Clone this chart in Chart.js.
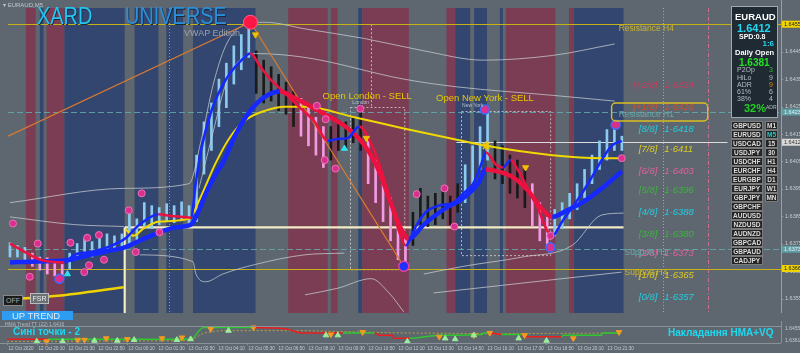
<!DOCTYPE html>
<html>
<head>
<meta charset="utf-8">
<script src="https://cdn.jsdelivr.net/npm/chart.js@4.4.1/dist/chart.umd.min.js"></script>
<style>
html,body{margin:0;padding:0;}
body{width:800px;height:353px;background:#5e6770;position:relative;overflow:hidden;font-family:'Liberation Sans',Arial,sans-serif;}
canvas{position:absolute;left:0;}
.t{position:absolute;white-space:nowrap;line-height:1;}
.btn{position:absolute;height:7px;background:#252525;border:1px solid #7a7a7a;color:#dcdcdc;font-size:6.5px;line-height:7px;text-align:center;font-weight:bold;}
#info{position:absolute;left:731px;top:6px;width:45px;height:110px;background:#1f2a33;border:1px solid #a0a8ae;}
</style>
</head>
<body>
<canvas id="main" width="800" height="321" style="top:0;width:800px;height:321px"></canvas>
<canvas id="sub" width="800" height="32" style="top:321px;width:800px;height:32px"></canvas>

<div class="t" style="left:3px;top:2px;font-size:6px;color:#c0c6cc;">▾ EURAUD,M5</div>
<div class="t" style="left:37px;top:4px;font-size:24px;color:#22c6f2;transform:scaleX(0.83);transform-origin:left top;text-shadow:1px 1px 0 #1b2838;">XARD</div>
<div class="t" style="left:125px;top:4px;font-size:24px;color:#2a90dc;transform:scaleX(0.83);transform-origin:left top;text-shadow:1px 1px 0 #1b2838;">UNIVERSE</div>
<div class="t" style="left:184px;top:29px;font-size:9px;color:#9aa2aa;">VWAP Edition</div>

<div id="info">
  <div class="t" style="left:3px;top:5px;font-size:9.5px;font-weight:900;color:#fff;">EURAUD</div>
  <div class="t" style="left:5px;top:16px;font-size:11px;font-weight:bold;color:#22d8f2;">1.6412</div>
  <div class="t" style="left:7px;top:26px;font-size:7px;font-weight:bold;color:#fff;">SPD:0.8</div>
  <div class="t" style="right:3px;top:33px;font-size:8px;font-weight:bold;color:#22d8f2;">1:6</div>
  <div class="t" style="left:3px;top:42px;font-size:7.5px;font-weight:bold;color:#fff;">Daily Open</div>
  <div class="t" style="left:7px;top:51px;font-size:10px;font-weight:bold;color:#22e022;">1.6381</div>
  <div class="t" style="left:5px;top:59px;font-size:7px;color:#b8bec4;">P2Op</div><div class="t" style="right:4px;top:59px;font-size:7px;color:#30c030;">3</div>
  <div class="t" style="left:5px;top:67px;font-size:7px;color:#b8bec4;">HiLo</div><div class="t" style="right:4px;top:67px;font-size:7px;color:#b8bec4;">9</div>
  <div class="t" style="left:5px;top:74px;font-size:7px;color:#b8bec4;">ADR</div><div class="t" style="right:4px;top:74px;font-size:7px;color:#e08a00;">9</div>
  <div class="t" style="left:5px;top:81px;font-size:7px;color:#b8bec4;">61%</div><div class="t" style="right:4px;top:81px;font-size:7px;color:#b8bec4;">6</div>
  <div class="t" style="left:5px;top:88px;font-size:7px;color:#b8bec4;">38%</div><div class="t" style="right:4px;top:88px;font-size:7px;color:#b8bec4;">4</div>
  <div class="t" style="left:12px;top:96px;font-size:11px;font-weight:bold;color:#22d022;">32%</div>
  <div class="t" style="left:34px;top:98px;font-size:5px;color:#b8bec4;">ADR</div>
</div>
<div id="btns"></div>

<div class="t" style="left:3px;top:295px;width:18px;height:9px;background:#1c1c1c;border:1px solid #888;color:#aaa;font-size:7px;line-height:9px;text-align:center;">OFF</div>
<div class="t" style="left:30px;top:293px;width:17px;height:9px;background:#6c7176;border:1px solid #bbb;color:#eee;font-size:7px;line-height:9px;text-align:center;">FSR</div>
<div class="t" style="left:2px;top:311px;width:61px;height:9px;background:#2e9cf0;color:#dfeaf2;font-size:9.5px;line-height:9px;padding-left:10px;">UP TREND</div>

<div class="t" style="left:5px;top:322px;font-size:5px;color:#b0b8c0;">HMA Trend TT (22) 1.6416</div>
<div class="t" style="left:13px;top:327px;font-size:10px;font-weight:bold;color:#1ed8f0;">Сині точки - 2</div>
<div class="t" style="left:668px;top:328px;font-size:10px;font-weight:bold;color:#1ed8f0;">Накладання HMA+VQ</div>

<script>
// ================= DATA =================
const timeLabels = ["12 Oct 2020","12 Oct 20:10","12 Oct 21:30","12 Oct 22:50","13 Oct 00:10","13 Oct 01:30","13 Oct 02:50","13 Oct 04:10","13 Oct 05:30","13 Oct 06:50","13 Oct 08:10","13 Oct 09:30","13 Oct 10:50","13 Oct 12:10","13 Oct 13:30","13 Oct 14:50","13 Oct 16:10","13 Oct 17:30","13 Oct 18:50","13 Oct 20:10","13 Oct 21:30"];
const barsPerLabel = 16;
const priceTicks = [1.6445,1.6435,1.6425,1.6415,1.6405,1.6395,1.6385,1.6375,1.6365,1.6355];
const subTicks = [1.6455,1.6361];

// candles (x = M5 bar index, one candle every 4 bars)
const candleStep = 4;
const candleHigh = [1.63754,1.63744,1.63737,1.63716,1.63702,1.63699,1.63689,1.63675,1.63716,1.63751,1.63768,1.63758,1.63779,1.63786,1.63779,1.63786,1.63872,1.63841,1.639,1.63889,1.63882,1.63896,1.63889,1.63903,1.63889,1.64073,1.64194,1.64263,1.6435,1.64408,1.64471,1.64512,1.64557,1.64453,1.64419,1.64395,1.64367,1.64339,1.64305,1.6428,1.64246,1.64211,1.64177,1.64177,1.64201,1.64194,1.64211,1.64253,1.64142,1.64055,1.63986,1.63917,1.63831,1.63779,1.63865,1.63952,1.63924,1.63934,1.63959,1.63924,1.63969,1.64038,1.64107,1.64177,1.64239,1.64125,1.64107,1.64073,1.64055,1.64021,1.63969,1.639,1.63848,1.63875,1.639,1.63934,1.63969,1.64021,1.64073,1.64125,1.64166,1.64187,1.64142];
const candleLow = [1.63702,1.63702,1.63692,1.63668,1.63654,1.6364,1.63633,1.63619,1.63658,1.63692,1.63702,1.63702,1.63716,1.63727,1.63723,1.6373,1.63744,1.63751,1.63813,1.63806,1.6382,1.63831,1.63827,1.63834,1.6382,1.63831,1.64004,1.6409,1.64177,1.64246,1.64332,1.64384,1.64429,1.64298,1.64263,1.6427,1.64235,1.64222,1.64177,1.64142,1.64107,1.64073,1.64028,1.64055,1.6409,1.64097,1.64118,1.6409,1.63969,1.639,1.63831,1.63761,1.63692,1.63668,1.63744,1.6382,1.63813,1.6382,1.63841,1.6382,1.63865,1.639,1.63969,1.64021,1.64055,1.63986,1.63969,1.63934,1.63917,1.63882,1.63813,1.63761,1.63737,1.63779,1.63806,1.63841,1.63875,1.63917,1.63969,1.64021,1.64055,1.6409,1.6409];
const candleTone = ("bbb"+"ppppp"+"bbbbbbbbbbbbbbbbb"+"bbbbbbbb"+"kkkkkk"+"pppp"+"kkkkk"+"pppppp"+"kkkkkkk"+"bbbb"+"kkkkk"+"ppp"+"bbbbbbbbbb").split("");

// moving averages
const fastX = [0,8,16.4,29.2,34.5,43,52,61.5,69.5,79.6,86.5,92.8,97.1,99.7,102.4,107.7,113,118.3,124.1,128.9,134.2,139.5,147.5,155.4,163.4,170.3,175.6,180.9,187.3,193.6,198.9,204.2,208.5,212.2,217.5,222.8,229.7,237.7,243,248.3,252.5,255.2,260.5,264.2,268.4,272.1,277.5,282.8,288.1,290.7,296,301.3,306.6,311.9,317.2,322.5,327.9];
const fastY = [1.63751,1.6372,1.63692,1.63682,1.6371,1.6372,1.63737,1.63768,1.6382,1.63858,1.63851,1.63848,1.63845,1.63976,1.6409,1.64229,1.64315,1.64374,1.64419,1.64443,1.64395,1.6435,1.64298,1.64246,1.64194,1.64125,1.64132,1.64135,1.64177,1.64114,1.64021,1.639,1.63796,1.63744,1.63813,1.63865,1.63889,1.639,1.63934,1.63969,1.64038,1.64083,1.64038,1.64028,1.64055,1.64021,1.63952,1.63882,1.63796,1.63779,1.63831,1.63882,1.63934,1.63993,1.64055,1.64107,1.64125];
const slowX = [0,14.9,29.2,43,52,61.5,70.6,80.1,89.1,97.1,101.3,105,110.3,114.1,121,128.9,136.9,144.8,152.8,160.7,168.7,179.3,187.3,192.6,197.9,203.2,208.5,213.8,221.8,232.4,243,250.9,255.2,261.5,269.5,277.5,285.4,290.7,298.7,306.6,317.2,327.9];
const slowY = [1.63682,1.63686,1.63689,1.6371,1.63723,1.63737,1.63765,1.63792,1.6381,1.6382,1.63872,1.63934,1.64004,1.64045,1.64149,1.64235,1.64287,1.64305,1.6428,1.64253,1.64222,1.6418,1.64132,1.64083,1.64014,1.63917,1.6382,1.63768,1.6382,1.63875,1.63917,1.63969,1.64021,1.64014,1.63993,1.63945,1.63875,1.63848,1.63872,1.639,1.63952,1.64014];
const vwapPrevX = [0,25.5,61];
const vwapPrevY = [1.63547,1.63561,1.63592];
const vwapX = [62,66.3,71.6,80.1,96,101.3,110.3,118.3,126.3,136.9,147.5,158.1,184.6,211.1,237.7,255.2,290.7,317.2,327.9];
const vwapY = [1.63803,1.63779,1.63806,1.63831,1.63841,1.63907,1.64045,1.64142,1.64201,1.64235,1.64249,1.64249,1.64211,1.6417,1.64132,1.64107,1.64073,1.64062,1.64062];

// envelope bands [bar, price]
const envUpperOuter = [[0,1.6390],[61,1.63952],[96,1.63969],[102.4,1.64125],[109,1.64332],[115.6,1.64471],[123.6,1.6454],[136.9,1.64557],[158.1,1.64533],[189.9,1.64498],[221.8,1.64453],[253.6,1.64419],[290.7,1.64436],[324.1,1.64478]];
const envUpperInner = [[101.3,1.63952],[107.7,1.64125],[116.7,1.6435],[131.6,1.64443],[158.1,1.64429],[211.1,1.6435],[239.3,1.64322],[290.7,1.64291],[324.1,1.6427]];
const envLeftMid = [[0,1.63848],[34.5,1.6382],[61,1.63813]];
const envLowerA = [[69.5,1.6371],[98.1,1.63685],[99.7,1.6364],[105,1.63612],[114.1,1.6364],[131.6,1.63675],[158.1,1.6371],[179.3,1.63716]];
const envLowerB = [[158.1,1.63564],[175.6,1.63588],[193.6,1.63623],[203.2,1.63571],[211.1,1.63502]];
const envLowerC = [[221.8,1.6364],[243,1.63668],[274.8,1.63702],[301.3,1.63744],[317.2,1.63855],[328.9,1.63862]];
const envLowerD = [[227,1.63571],[264.2,1.63599],[296,1.63623],[327.9,1.63647]];
const zigzag = [[-1,1.64142],[128.9,1.64557],[211.1,1.63668]];

// levels
const resistH4 = 1.6455, resistH1 = 1.6423, supportH1 = 1.6373, supportH4 = 1.6366;
const currentPrice = 1.6412, dailyOpen = 1.6381;
const dayStartBar = 61.5, lastBar = 328.9, priceLineEndBar = 384.6, priceLineStartBar = 239.3;
const fibTags = ["[+2/8]","[+1/8]","[8/8]","[7/8]","[6/8]","[5/8]","[4/8]","[3/8]","[2/8]","[1/8]","[0/8]"];
const fibValues = [1.6434,1.6426,1.6418,1.6411,1.6403,1.6396,1.6388,1.6380,1.6373,1.6365,1.6357];

// background bands (bar ranges) r = sell zone, b = buy zone
const bandStart = [8.5,16,19.6,29.2,66.8,83.8,98.1,149.1,172,186.7,188.9,234,238.7,248.8,262.6,265.8,299.7,302.4];
const bandEnd   = [13.8,18,29.2,61.5,79.6,92.8,131.6,170.3,175.6,188.9,213.8,238.7,246.7,255.7,264.2,292.3,302.4,328.9];
const bandType  = ['r','b','r','b','b','b','b','r','r','b','r','r','b','b','b','r','r','b'];

// sessions
const londonBox = [182,211.1,1.64249,1.63658];
const londonOpenBar = 193.6;
const nyBox = [241.9,289.7,1.64235,1.6371];
const dottedTimes = [85.4,350.1];
const futureMarkBar = 374;

// markers [bar, price]
const pinkDots = [[1.6,1.63824],[14.9,1.63751],[10.6,1.6363],[32.4,1.63754],[41.4,1.63772],[47.7,1.63782],[39.8,1.63647],[42.4,1.63672],[50.4,1.63692],[63.7,1.63872],[70.6,1.63934],[67.4,1.6372],[80.1,1.63792],[164.5,1.64253],[169.2,1.64204],[168.7,1.64055],[174.5,1.64024],[187.8,1.64242],[218,1.63931],[232.9,1.63952],[238.2,1.63813],[289.7,1.63779],[327.9,1.64062]];
const ringDots = [[26.5,1.63623],[254.6,1.64239],[289.7,1.63737],[324.7,1.64184]];
const topMark = [[128.9,1.64557]];
const lowMark = [[211.1,1.63668]];
const upArrows = [[30.8,1.6364],[179.3,1.64097]];
const downArrows = [[131.6,1.64512],[191,1.64135],[276.4,1.64028]];
const starMarks = [[255.2,1.64107]];

// sub window
const hmaX = [0,21.8,98.1,105,131.6,149.1,158.1,179.3,196.3,198.9,205.8,206.4,214.9,230.8,253.6,254.6,257.3,264.2,274.8,276.4,296,297.1,317.2,318.3,327.9];
const hmaY = [1.63735,1.63735,1.63735,1.64676,1.64676,1.64551,1.64237,1.64237,1.64237,1.64049,1.64049,1.63798,1.63798,1.64049,1.64112,1.64237,1.64237,1.64112,1.64112,1.63924,1.63924,1.64049,1.64049,1.64237,1.64237];
const hmaTrend = ['r','g','g','g','r','r','r','g','r','r','r','r','g','g','g','g','r','g','r','r','g','g','g','g','g'];
const vqX = [0,98.1,105,114.1,158.1,211.1,264.2,327.9];
const vqY = [1.63547,1.6361,1.64237,1.64425,1.64425,1.64237,1.64174,1.64237];
const subUp = [[15.9,1.63547],[29.7,1.63547],[46.7,1.6361],[58.9,1.6361],[67.9,1.63673],[90.7,1.63673],[98.1,1.63735],[118.3,1.64425],[170.3,1.64049],[176.7,1.64049],[213.8,1.63547],[234,1.63798],[239.3,1.63735],[249.3,1.64049],[273.2,1.63798],[288.1,1.6361]];
const subDown = [[21.2,1.63547],[37.7,1.63673],[41.4,1.63673],[53,1.63798],[64.2,1.63735],[82.8,1.63798],[93.4,1.63861],[108.8,1.64551],[131.6,1.64676],[172.9,1.64112],[189.9,1.643],[230.8,1.63924],[249.3,1.64049],[257.8,1.64237],[276.4,1.64049],[302.4,1.63798],[326.8,1.643]];

// symbol panel
const pairs = ["GBPUSD","EURUSD","USDCAD","USDJPY","USDCHF","EURCHF","EURGBP","EURJPY","GBPJPY","GBPCHF","AUDUSD","NZDUSD","AUDNZD","GBPCAD","GBPAUD","CADJPY"];
const timeframes = ["M1","M5","15","30","H1","H4","D1","W1","MN"];

// ================= STYLE / SETUP =================
const X_MIN = -1.06, X_MAX = 413.3;
const Y_MIN = 1.63498, Y_MAX = 1.64609;
const SUB_MIN = 1.63422, SUB_MAX = 1.64801;
const BAND_COLORS = {r:'#7a3d53', b:'#33466f'};
const TONE = {b:'#8ccbef', p:'#f29ae4', k:'#1a1a1a'};
const MA_UP = '#1428ff', MA_DOWN = '#ec1240';
const FIB_COLORS = ['#cc3a5e','#d24e2c','#22cde0','#dccc20','#e2609e','#3cb43c','#22cde0','#3cb43c','#e2609e','#dccc20','#22cde0'];
const TAGS = [[resistH4,'#efd400','#222'],[resistH1,'#5c9ea2','#eef'],[currentPrice,'#d8d8d8','#333'],[supportH1,'#5c9ea2','#eef'],[supportH4,'#efd400','#222']];

// buttons
const btns = document.getElementById('btns');
pairs.forEach((p,i)=>{
  const d=document.createElement('div'); d.className='btn';
  d.style.left='731px'; d.style.top=(121+9*i)+'px'; d.style.width='30px'; d.textContent=p; btns.appendChild(d);
});
timeframes.forEach((p,i)=>{
  const d=document.createElement('div'); d.className='btn';
  d.style.left='765px'; d.style.top=(121+9*i)+'px'; d.style.width='11px'; d.textContent=p;
  if(p==='M5') d.style.color='#22c8c8';
  btns.appendChild(d);
});

const xy = (xs,ys)=>xs.map((x,i)=>({x, y:ys[i]}));
const pts = arr=>arr.map(p=>({x:p[0], y:p[1]}));
const envDs = (arr)=>({type:'line', data:pts(arr), borderColor:'rgba(200,205,210,0.75)', borderWidth:1, pointRadius:0, cubicInterpolationMode:'monotone', order:9});
const markDs = (arr, o)=>Object.assign({type:'line', data:pts(arr), showLine:false, order:1, clip:false}, o);

const mainPlugin = {
  id:'mainDeco',
  beforeDatasetsDraw(chart){
    const {ctx, chartArea:a, scales:{x,y}} = chart;
    const X=v=>x.getPixelForValue(v), Y=v=>y.getPixelForValue(v);
    ctx.save();
    for(let i=0;i<bandStart.length;i++){
      ctx.fillStyle=BAND_COLORS[bandType[i]];
      ctx.fillRect(X(bandStart[i]),a.top,X(bandEnd[i])-X(bandStart[i]),a.bottom-a.top);
    }
    ctx.lineWidth=1;
    ctx.strokeStyle='rgba(215,220,225,0.55)'; ctx.setLineDash([1,2]);
    dottedTimes.forEach(t=>{const px=Math.round(X(t))+0.5; ctx.beginPath(); ctx.moveTo(px,a.top); ctx.lineTo(px,a.bottom); ctx.stroke();});
    ctx.strokeStyle='#c8708c'; ctx.setLineDash([4,2,1,2]);
    {const px=Math.round(X(futureMarkBar))+0.5; ctx.beginPath(); ctx.moveTo(px,a.top); ctx.lineTo(px,a.bottom); ctx.stroke();}
    ctx.strokeStyle='rgba(225,228,232,0.7)'; ctx.setLineDash([2,2]);
    [londonBox, nyBox].forEach(b=>{ctx.strokeRect(Math.round(X(b[0]))+0.5, Math.round(Y(b[2]))+0.5, X(b[1])-X(b[0]), Y(b[3])-Y(b[2]));});
    {const px=Math.round(X(londonOpenBar))+0.5; ctx.beginPath(); ctx.moveTo(px,Y(resistH4)); ctx.lineTo(px,Y(londonBox[2])); ctx.stroke();}
    ctx.strokeStyle='rgba(100,170,172,0.85)'; ctx.setLineDash([6,3]);
    [resistH1, supportH1].forEach(v=>{const py=Math.round(Y(v))+0.5; ctx.beginPath(); ctx.moveTo(a.left,py); ctx.lineTo(a.right,py); ctx.stroke();});
    ctx.setLineDash([]); ctx.strokeStyle='#c6b214'; ctx.lineWidth=1.2;
    [resistH4, supportH4].forEach(v=>{const py=Math.round(Y(v))+0.5; ctx.beginPath(); ctx.moveTo(a.left,py); ctx.lineTo(a.right,py); ctx.stroke();});
    ctx.strokeStyle='#dcdcdc'; ctx.lineWidth=1;
    {const py=Math.round(Y(currentPrice))+0.5; ctx.beginPath(); ctx.moveTo(X(priceLineStartBar),py); ctx.lineTo(X(priceLineEndBar),py); ctx.stroke();}
    ctx.strokeStyle='#f3ebc6'; ctx.lineWidth=2.2;
    ctx.beginPath(); ctx.moveTo(X(dayStartBar),Y(dailyOpen)); ctx.lineTo(X(lastBar),Y(dailyOpen)); ctx.stroke();
    ctx.beginPath(); ctx.moveTo(X(dayStartBar),Y(dailyOpen)); ctx.lineTo(X(dayStartBar),a.bottom); ctx.stroke();
    ctx.restore();
  },
  afterDatasetsDraw(chart){
    const {ctx, chartArea:a, scales:{x,y}} = chart;
    const X=v=>x.getPixelForValue(v), Y=v=>y.getPixelForValue(v);
    ctx.save();
    ctx.font='italic 9.5px "Liberation Sans", Arial'; ctx.textBaseline='middle';
    fibTags.forEach((t,i)=>{
      const py=Y(fibValues[i])+4; ctx.fillStyle=FIB_COLORS[i];
      ctx.textAlign='right'; ctx.fillText(t, X(347), py);
      ctx.textAlign='left'; ctx.fillText(fibValues[i].toFixed(4).replace('.','·'), X(350.7), py);
    });
    ctx.font='8.5px "Liberation Sans", Arial'; ctx.textAlign='left';
    ctx.fillStyle='#c8b432'; ctx.fillText('Resistance H4', X(326.3), Y(resistH4)+4); ctx.fillText('Support H4', X(329.4), Y(supportH4)+4);
    ctx.fillStyle='#6aa8aa'; ctx.fillText('Resistance H1', X(326.3), Y(resistH1)+3); ctx.fillText('Support H1', X(329.4), Y(supportH1)+3);
    ctx.strokeStyle='#d8c020'; ctx.lineWidth=1.4;
    ctx.beginPath(); ctx.roundRect(X(322.5), Y(resistH1)-9, X(374)-X(322.5), 18, 4); ctx.stroke();
    ctx.font='9.5px "Liberation Sans", Arial'; ctx.textAlign='center'; ctx.fillStyle='#e6c800';
    ctx.fillText('Open London - SELL', X(191.5), Y(1.64287));
    ctx.fillText('Open New York - SELL', X(254.6), Y(1.6428));
    ctx.font='5px "Liberation Sans", Arial'; ctx.fillStyle='#b8c0c8';
    ctx.fillText('London', X(188), Y(1.64263)); ctx.fillText('New York', X(248), Y(1.64253));
    ctx.strokeStyle='#98a0a6'; ctx.lineWidth=1; ctx.beginPath(); ctx.moveTo(a.right+0.5,0); ctx.lineTo(a.right+0.5,a.bottom); ctx.stroke();
    ctx.font='5.5px "Liberation Sans", Arial'; ctx.textAlign='left'; ctx.fillStyle='#c5cbd0';
    priceTicks.forEach(v=>{const py=Y(v); ctx.fillText(v.toFixed(4), a.right+4, py); ctx.beginPath(); ctx.moveTo(a.right,Math.round(py)+0.5); ctx.lineTo(a.right+2,Math.round(py)+0.5); ctx.stroke();});
    TAGS.forEach(([v,bg,fg])=>{const py=Y(v); ctx.fillStyle=bg; ctx.fillRect(a.right+1, py-3.5, 18, 7); ctx.fillStyle=fg; ctx.fillText(v.toFixed(4), a.right+3, py);});
    ctx.restore();
  }
};

new Chart(document.getElementById('main'), {
  type:'line',
  data:{datasets:[
    {type:'bar', data:candleHigh.map((h,i)=>({x:i*candleStep, y:[candleLow[i],h]})), backgroundColor:candleTone.map(t=>TONE[t]), barThickness:2, order:10},
    envDs(envUpperOuter), envDs(envUpperInner), envDs(envLeftMid), envDs(envLowerA), envDs(envLowerB), envDs(envLowerC), envDs(envLowerD),
    {data:pts(zigzag), borderColor:'#d87a30', borderWidth:1.2, pointRadius:0, order:8},
    {data:xy(vwapPrevX,vwapPrevY), borderColor:'#f0d200', borderWidth:2.5, pointRadius:0, cubicInterpolationMode:'monotone', order:4},
    {data:xy(vwapX,vwapY), borderColor:'#f0d800', borderWidth:2, pointRadius:0, cubicInterpolationMode:'monotone', order:4},
    {data:xy(slowX,slowY), borderColor:MA_UP, borderWidth:4.5, pointRadius:0, cubicInterpolationMode:'monotone', order:3,
      segment:{borderColor:c=>c.p1.parsed.y>=c.p0.parsed.y?MA_UP:MA_DOWN}},
    {data:xy(fastX,fastY), borderColor:MA_UP, borderWidth:2.5, pointRadius:0, cubicInterpolationMode:'monotone', order:2,
      segment:{borderColor:c=>c.p1.parsed.y>=c.p0.parsed.y?MA_UP:MA_DOWN}},
    markDs(pinkDots,{pointRadius:3.5, pointBackgroundColor:'#d8308c', pointBorderColor:'#f070b8', pointBorderWidth:1}),
    markDs(ringDots,{pointRadius:4.5, pointBackgroundColor:'#d8308c', pointBorderColor:'#3a6cff', pointBorderWidth:1.5}),
    markDs(topMark,{pointRadius:7, pointBackgroundColor:'#ff1744', pointBorderColor:'#ff6090', pointBorderWidth:1}),
    markDs(lowMark,{pointRadius:5, pointBackgroundColor:'#2030ff', pointBorderColor:'#e040a0', pointBorderWidth:1.5}),
    markDs(upArrows,{pointStyle:'triangle', pointRadius:3.5, pointBackgroundColor:'#30e0f0', pointBorderColor:'#30e0f0'}),
    markDs(downArrows,{pointStyle:'triangle', rotation:180, pointRadius:3.5, pointBackgroundColor:'#f0c000', pointBorderColor:'#f0c000'}),
    markDs(starMarks,{pointStyle:'star', pointRadius:4.5, pointBorderColor:'#f0c800', pointBorderWidth:1.5})
  ]},
  options:{
    responsive:false, animation:false, events:[],
    layout:{padding:{left:0,right:19,top:0,bottom:0}},
    plugins:{legend:{display:false}, tooltip:{enabled:false}},
    scales:{
      x:{type:'linear', min:X_MIN, max:X_MAX, display:false, offset:false},
      y:{type:'linear', min:Y_MIN, max:Y_MAX, display:false}
    }
  },
  plugins:[mainPlugin]
});

const subPlugin = {
  id:'subDeco',
  afterDatasetsDraw(chart){
    const {ctx, chartArea:a, scales:{x,y}} = chart;
    ctx.save();
    ctx.strokeStyle='#8a9299'; ctx.lineWidth=1;
    ctx.beginPath(); ctx.moveTo(0,a.top+0.5); ctx.lineTo(a.right,a.top+0.5); ctx.stroke();
    ctx.beginPath(); ctx.moveTo(0,a.bottom+0.5); ctx.lineTo(a.right,a.bottom+0.5); ctx.stroke();
    ctx.beginPath(); ctx.moveTo(a.right+0.5,0); ctx.lineTo(a.right+0.5,a.bottom); ctx.stroke();
    ctx.font='4.6px "Liberation Sans", Arial'; ctx.fillStyle='#c4cad0'; ctx.textAlign='left'; ctx.textBaseline='top';
    timeLabels.forEach((l,i)=>{const px=Math.round(x.getPixelForValue(i*barsPerLabel))+0.5;
      ctx.beginPath(); ctx.moveTo(px,a.bottom); ctx.lineTo(px,a.bottom+2); ctx.stroke();
      ctx.fillText(l, px+1, a.bottom+3);});
    ctx.textBaseline='middle'; ctx.font='5px "Liberation Sans", Arial';
    subTicks.forEach(v=>ctx.fillText(v.toFixed(4), a.right+4, y.getPixelForValue(v)));
    ctx.restore();
  }
};

new Chart(document.getElementById('sub'), {
  type:'line',
  data:{datasets:[
    {data:xy(vqX,vqY), borderColor:'#b8a040', borderWidth:1, borderDash:[2,2], pointRadius:0, order:5},
    {data:xy(hmaX,hmaY), borderColor:'#2ec82e', borderWidth:1.5, pointRadius:0, cubicInterpolationMode:'monotone', order:4,
      segment:{borderColor:c=>hmaTrend[c.p0DataIndex]==='g'?'#2ec82e':'#ee1c1c'}},
    {type:'line', data:pts(subUp), showLine:false, pointStyle:'triangle', pointRadius:3.2, pointBackgroundColor:'#9cec9c', pointBorderColor:'#9cec9c', order:1, clip:false},
    {type:'line', data:pts(subDown), showLine:false, pointStyle:'triangle', rotation:180, pointRadius:3.2, pointBackgroundColor:'#f39a22', pointBorderColor:'#f39a22', order:1, clip:false}
  ]},
  options:{
    responsive:false, animation:false, events:[],
    layout:{padding:{left:0,right:19,top:0,bottom:10}},
    plugins:{legend:{display:false}, tooltip:{enabled:false}},
    scales:{
      x:{type:'linear', min:X_MIN, max:X_MAX, display:false},
      y:{type:'linear', min:SUB_MIN, max:SUB_MAX, display:false}
    }
  },
  plugins:[subPlugin]
});
</script>
</body>
</html>
